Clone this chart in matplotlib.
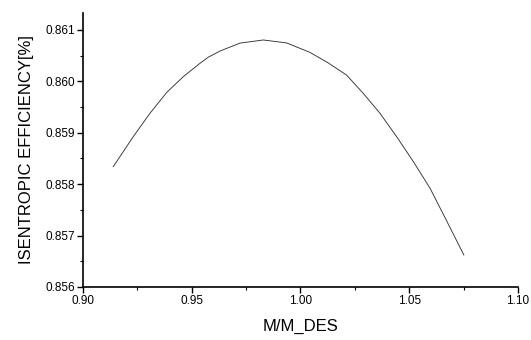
import matplotlib
matplotlib.use("Agg")
import matplotlib.pyplot as plt
from matplotlib.ticker import MultipleLocator, FormatStrFormatter

# values
m_ratio = [0.9139, 0.9231, 0.9308, 0.9385, 0.9461, 0.9538, 0.9576, 0.9630,
           0.9722, 0.9829, 0.9936, 1.0043, 1.0127, 1.0212, 1.0287, 1.0364,
           1.0443, 1.0518, 1.0595, 1.0670, 1.0751]
efficiency = [0.858340, 0.858924, 0.859379, 0.859785, 0.860091, 0.860352, 0.860470,
              0.860590, 0.860744, 0.860805, 0.860748, 0.860565, 0.860360, 0.860122,
              0.859774, 0.859387, 0.858918, 0.858444, 0.857926, 0.857303, 0.856623]

plt.rcParams["font.family"] = ["Liberation Sans", "DejaVu Sans"]

fig = plt.figure(figsize=(5.31, 3.40), dpi=100)
ax = fig.add_axes([0.1563, 0.1559, 0.8192, 0.8059])

ax.plot(m_ratio, efficiency, color="#333333", linewidth=0.65)

ax.set_xlim(0.90, 1.10)
ax.set_ylim(0.856, 0.86133)
ax.xaxis.set_major_locator(MultipleLocator(0.05))
ax.xaxis.set_minor_locator(MultipleLocator(0.025))
ax.yaxis.set_major_locator(MultipleLocator(0.001))
ax.yaxis.set_minor_locator(MultipleLocator(0.0005))
ax.xaxis.set_major_formatter(FormatStrFormatter("%.2f"))
ax.yaxis.set_major_formatter(FormatStrFormatter("%.3f"))

ax.spines["top"].set_visible(False)
ax.spines["right"].set_visible(False)
for s in ["left", "bottom"]:
    ax.spines[s].set_linewidth(1.2)

ax.tick_params(which="major", direction="out", length=4, width=1, labelsize=8.5, pad=2)
ax.tick_params(which="minor", direction="out", length=2.5, width=0.8)

ax.set_xlabel("M/M_DES", fontsize=12, labelpad=8)
ax.set_ylabel("ISENTROPIC EFFICIENCY[%]", fontsize=12, labelpad=8)

fig.savefig("out.png", dpi=100)
